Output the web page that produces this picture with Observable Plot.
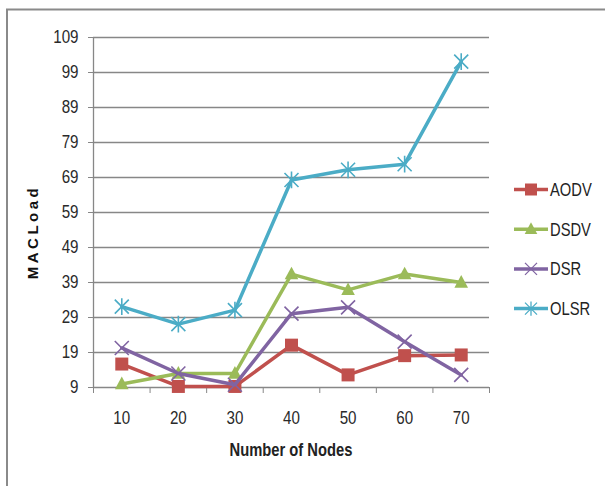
<!DOCTYPE html>
<html>
<head>
<meta charset="utf-8">
<script src="https://cdn.jsdelivr.net/npm/d3@7"></script>
<script src="https://cdn.jsdelivr.net/npm/@observablehq/plot@0.6"></script>
<style>
  html, body { margin: 0; padding: 0; background: #fff; overflow: hidden; }
  #chart { position: relative; width: 605px; height: 486px; }
</style>
</head>
<body>
<div id="chart"></div>
<script>
// MAC load per routing protocol vs. number of nodes
const nodes = [10, 20, 30, 40, 50, 60, 70];
const aodv = [15.7, 9.3, 9.3, 21.1, 12.6, 18.1, 18.3];
const dsdv = [10, 13, 13, 41.4, 36.9, 41.4, 39];
const dsr = [20.3, 13, 9.8, 30.1, 31.9, 22.1, 12.6];
const olsr = [32.1, 27.1, 31.1, 68.3, 71.2, 72.8, 102.1];
const yTicks = [9, 19, 29, 39, 49, 59, 69, 79, 89, 99, 109];
const seriesNames = ["AODV", "DSDV", "DSR", "OLSR"];
const seriesColors = ["#C0504D", "#9BBB59", "#8064A2", "#4BACC6"];
const seriesValues = [aodv, dsdv, dsr, olsr];

// Marker shapes (size is an area, as in d3.symbol)
const half = (size) => Math.sqrt(size / Math.PI);
const squareSym = { draw(c, s) { const r = half(s); c.rect(-r, -r, 2 * r, 2 * r); } };
const triangleSym = { draw(c, s) { const r = half(s); c.moveTo(0, -r * 1.15); c.lineTo(r * 1.05, r * 0.8); c.lineTo(-r * 1.05, r * 0.8); c.closePath(); } };
const crossSym = { draw(c, s) { const r = half(s); c.moveTo(-r, -r); c.lineTo(r, r); c.moveTo(r, -r); c.lineTo(-r, r); } };
const starSym = { draw(c, s) { const r = half(s); c.moveTo(-r, -r); c.lineTo(r, r); c.moveTo(r, -r); c.lineTo(-r, r); c.moveTo(0, -r * 1.2); c.lineTo(0, r * 1.2); } };
const symbols = [squareSym, triangleSym, crossSym, starSym];
const filled = [true, true, false, false];

const rows = seriesNames.flatMap((name, i) =>
  nodes.map((n, j) => ({ series: name, nodes: n, value: seriesValues[i][j] })));

const gridColor = "#878787";
const sans = "'Liberation Sans', Arial, sans-serif";
const narrowX = 0.82; // horizontal squeeze giving a narrow face

const seriesMarks = seriesNames.flatMap((name, i) => {
  const data = rows.filter(d => d.series === name);
  return [
    Plot.line(data, { x: "nodes", y: "value", stroke: seriesColors[i], strokeWidth: 3.5, strokeLinejoin: "round" }),
    Plot.dot(data, filled[i]
      ? { x: "nodes", y: "value", symbol: () => symbols[i], r: 6.5, fill: seriesColors[i], stroke: "none" }
      : { x: "nodes", y: "value", symbol: () => symbols[i], r: 7, fill: "none", stroke: seriesColors[i], strokeWidth: 1.6 })
  ];
});

const svg = Plot.plot({
  width: 605,
  height: 486,
  marginLeft: 93,
  marginRight: 116,
  marginTop: 37,
  marginBottom: 99,
  x: { type: "linear", domain: [5, 75] },
  y: { domain: [9, 109] },
  symbol: { type: "identity" },
  style: { fontFamily: sans, fontSize: "18px", color: "#333", background: "transparent" },
  marks: [
    Plot.ruleY(yTicks, { stroke: gridColor, strokeWidth: 1.3 }),
    Plot.ruleX([5], { y1: 9, y2: 109, stroke: gridColor, strokeWidth: 1.3 }),
    Plot.axisY({ ticks: yTicks, tickSize: 5, tickPadding: 10, stroke: gridColor, label: null, fontSize: 18.5, fill: "#2a2a2a", tickFormat: d => String(d) }),
    Plot.axisX({ ticks: d3.range(5, 76, 10), tickSize: 6, tickFormat: () => "", stroke: gridColor, label: null }),
    Plot.axisX({ ticks: nodes, tickSize: 0, tickPadding: 23, label: null, fontSize: 18.5, fill: "#2a2a2a", tickFormat: d => String(d) }),
    ...seriesMarks
  ]
});

const root = d3.select(svg);

// Squeeze tick labels horizontally around their anchor
root.selectAll("g[aria-label$='tick label'] text").each(function () {
  const t = this.getAttribute("transform") || "";
  this.setAttribute("transform", `${t} scale(${narrowX},1)`);
});

// Outer chart frame (top and left edges)
root.append("path")
  .attr("d", "M7,486V9.5H605")
  .attr("fill", "none")
  .attr("stroke", "#8a8a8a")
  .attr("stroke-width", 2);

// Axis titles
root.append("text")
  .attr("transform", "translate(38,232) rotate(-90)")
  .attr("style", `font-family:${sans};font-weight:bold;font-size:15px;letter-spacing:3.5px;text-anchor:middle;fill:#111`)
  .text("MACLoad");

root.append("text")
  .attr("transform", `translate(291,456) scale(${narrowX},1)`)
  .attr("style", `font-family:${sans};font-weight:bold;font-size:18px;text-anchor:middle;fill:#222`)
  .text("Number of Nodes");

// Legend
const legend = root.append("g");
seriesNames.forEach((name, i) => {
  const y = 189.5 + i * 39.7;
  const g = legend.append("g").attr("transform", `translate(0,${y})`);
  g.append("line").attr("x1", 514).attr("x2", 548).attr("y1", 0).attr("y2", 0)
    .attr("stroke", seriesColors[i]).attr("stroke-width", 3.5);
  const sym = d3.symbol(symbols[i], Math.PI * 6 * 6)();
  g.append("path").attr("d", sym).attr("transform", "translate(531,0)")
    .attr("fill", filled[i] ? seriesColors[i] : "none")
    .attr("stroke", filled[i] ? "none" : seriesColors[i])
    .attr("stroke-width", 1.3);
  g.append("text")
    .attr("transform", `translate(550,0) scale(${narrowX},1)`)
    .attr("dy", "0.36em")
    .attr("style", `font-family:${sans};font-size:18px;text-anchor:start;fill:#222`)
    .text(name);
});

document.getElementById("chart").appendChild(svg);
</script>
</body>
</html>
